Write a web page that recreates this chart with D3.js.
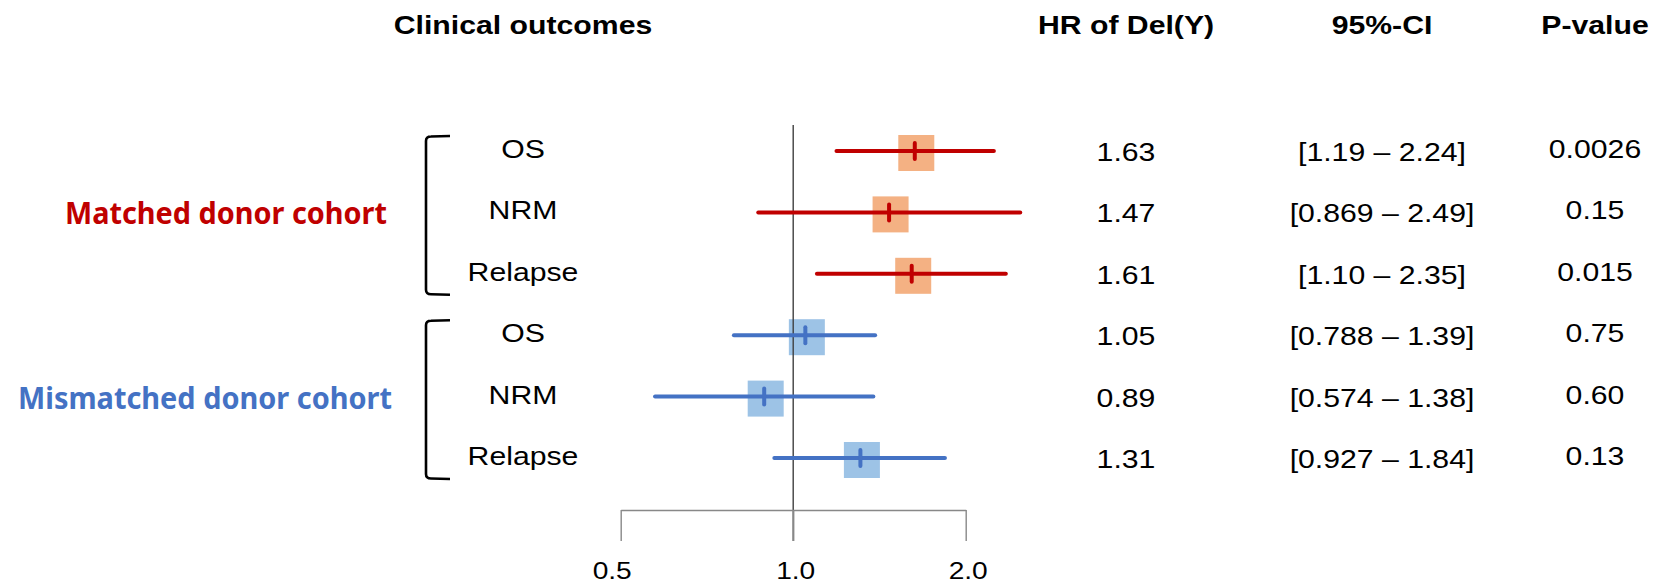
<!DOCTYPE html>
<html>
<head>
<meta charset="utf-8">
<script src="https://cdn.jsdelivr.net/npm/d3@7"></script>
<style>
  html, body { margin: 0; padding: 0; background: #fff; }
  svg { display: block; }
</style>
</head>
<body>
<svg id="chart" width="1657" height="584"></svg>
<script>
// ---------------- data ----------------
const outcomes   = ["OS", "NRM", "Relapse", "OS", "NRM", "Relapse"];
const cohorts    = ["Matched donor cohort", "Mismatched donor cohort"];
const cohortOf   = [0, 0, 0, 1, 1, 1];
const hr         = [1.63, 1.47, 1.61, 1.05, 0.89, 1.31];
const ciLow      = [1.19, 0.869, 1.10, 0.788, 0.574, 0.927];
const ciHigh     = [2.24, 2.49, 2.35, 1.39, 1.38, 1.84];
const hrLabels   = ["1.63", "1.47", "1.61", "1.05", "0.89", "1.31"];
const ciLabels   = ["[1.19 \u2013 2.24]", "[0.869 \u2013 2.49]", "[1.10 \u2013 2.35]",
                    "[0.788 \u2013 1.39]", "[0.574 \u2013 1.38]", "[0.927 \u2013 1.84]"];
const pLabels    = ["0.0026", "0.15", "0.015", "0.75", "0.60", "0.13"];
const headers    = ["Clinical outcomes", "HR of Del(Y)", "95%-CI", "P-value"];
const tickValues = [0.5, 1.0, 2.0];
const tickLabels = ["0.5", "1.0", "2.0"];

// ---------------- styles ----------------
const lineColors   = ["#C00000", "#4472C4"];
const squareColors = ["#F4B183", "#9DC3E6"];
const textColors   = ["#C00000", "#4472C4"];
const SX = 1.14;               // horizontal stretch of the original text
const FONT = "'Liberation Sans', Arial, sans-serif";

const svg = d3.select("#chart");

const x = d3.scaleLog().base(2).domain([0.5, 2]).range([620.7, 965.7]);
const y = d3.scalePoint().domain(d3.range(outcomes.length)).range([151, 458]);

function stretchedText(g, tx, ty, str, size, weight, anchor, color) {
  return g.append("text")
    .attr("transform", `translate(${tx},${ty}) scale(${SX},1)`)
    .attr("text-anchor", anchor)
    .attr("font-family", FONT)
    .attr("font-size", size)
    .attr("font-weight", weight)
    .attr("fill", color)
    .text(str);
}

// headers
const colX = [523, 1126, 1382, 1595];
headers.forEach((h, i) => stretchedText(svg, colX[i], 34, h, 26.5, "bold", "middle", "#000"));

// squares
svg.append("g").selectAll("rect").data(hr).join("rect")
  .attr("x", (d) => x(d) + 1.5 - 18)
  .attr("y", (d, i) => y(i) + 2 - 18)
  .attr("width", 36).attr("height", 36)
  .attr("fill", (d, i) => squareColors[cohortOf[i]]);

// reference line at HR = 1
svg.append("line")
  .attr("x1", x(1)).attr("x2", x(1))
  .attr("y1", 125).attr("y2", 541)
  .attr("stroke", "#404040").attr("stroke-width", 1.4);

// axis
const axis = d3.axisBottom(x).tickValues(tickValues).tickSize(31).tickSizeOuter(0)
  .tickFormat((d, i) => tickLabels[i]);
const ag = svg.append("g").attr("transform", "translate(0,510)").call(axis);
ag.select(".domain").attr("stroke", "#888").attr("stroke-width", 1.4);
ag.selectAll(".tick line").attr("stroke", "#888").attr("stroke-width", 1.4);
ag.selectAll(".tick text")
  .attr("y", 0).attr("dy", 0)
  .attr("transform", (d, i) => `translate(${i === 0 ? -9 : 2},69) scale(${SX},1)`)
  .attr("font-family", FONT).attr("font-size", 24.7).attr("fill", "#000");

// CI lines
svg.append("g").selectAll("line").data(hr).join("line")
  .attr("x1", (d, i) => x(ciLow[i])).attr("x2", (d, i) => x(ciHigh[i]))
  .attr("y1", (d, i) => y(i)).attr("y2", (d, i) => y(i))
  .attr("stroke", (d, i) => lineColors[cohortOf[i]])
  .attr("stroke-width", 4).attr("stroke-linecap", "round");

// HR tick marks
svg.append("g").selectAll("line").data(hr).join("line")
  .attr("x1", (d) => x(d)).attr("x2", (d) => x(d))
  .attr("y1", (d, i) => y(i) - 8).attr("y2", (d, i) => y(i) + 8)
  .attr("stroke", (d, i) => lineColors[cohortOf[i]])
  .attr("stroke-width", 4).attr("stroke-linecap", "round");

// row labels and table columns
outcomes.forEach((o, i) => {
  stretchedText(svg, colX[0], y(i) + 7, o, 26.5, "normal", "middle", "#000");
  stretchedText(svg, colX[1], y(i) + 10, hrLabels[i], 26.5, "normal", "middle", "#000");
  stretchedText(svg, colX[2], y(i) + 10, ciLabels[i], 26.5, "normal", "middle", "#000");
  stretchedText(svg, colX[3], y(i) + 7, pLabels[i], 26.5, "normal", "middle", "#000");
});

// brackets and cohort labels
const labelLeft  = [65, 18];
const labelWidth = [322, 374];
cohorts.forEach((c, k) => {
  const rows = d3.range(outcomes.length).filter((i) => cohortOf[i] === k);
  const top = y(rows[0]) - 15;
  const bot = y(rows[rows.length - 1]) + 21;
  const bx = 426, ex = 450;
  svg.append("path")
    .attr("d", `M${ex},${top} L${bx + 5},${top + 0.5} Q${bx},${top + 0.5} ${bx},${top + 5} L${bx},${bot - 5} Q${bx},${bot - 0.5} ${bx + 5},${bot - 0.5} L${ex},${bot}`)
    .attr("fill", "none").attr("stroke", "#000").attr("stroke-width", 2.6);
  const mid = y(rows[Math.floor(rows.length / 2)]);
  svg.append("text")
    .attr("x", labelLeft[k]).attr("y", mid + 12)
    .attr("font-family", "'Noto Sans', 'Open Sans', sans-serif")
    .attr("font-size", 31).attr("font-weight", "bold")
    .attr("fill", textColors[k])
    .attr("textLength", labelWidth[k]).attr("lengthAdjust", "spacingAndGlyphs")
    .text(c);
});
</script>
</body>
</html>
